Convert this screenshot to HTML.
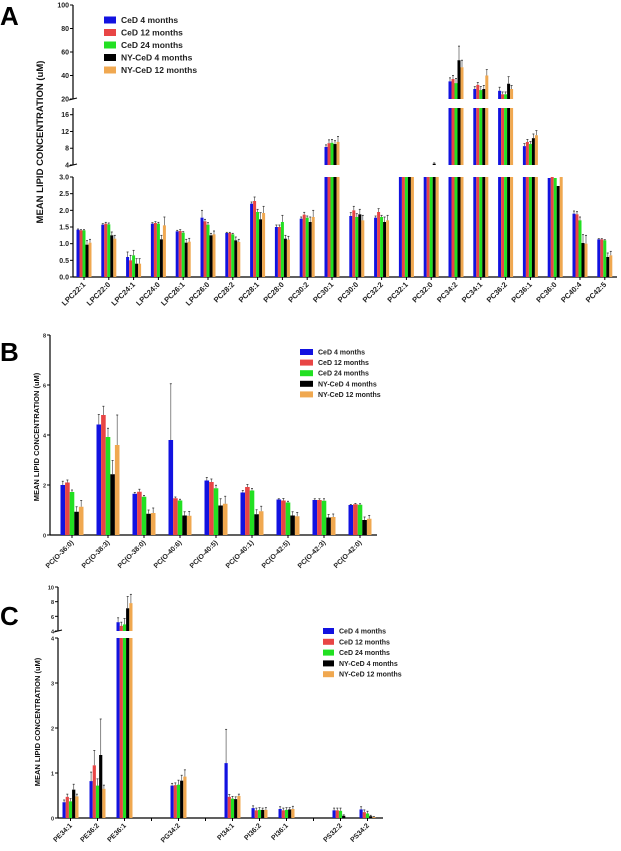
<!DOCTYPE html>
<html><head><meta charset="utf-8"><style>
body{margin:0;background:#fff;width:621px;height:851px;overflow:hidden}
svg{display:block;font-family:"Liberation Sans",sans-serif}
</style></head><body>
<svg id="s" width="621" height="851" viewBox="0 0 621 851"></svg>
<script>
const seriesNames=["CeD 4 months","CeD 12 months","CeD 24 months","NY-CeD 4 months","NY-CeD 12 months"];
const colors=["#1212e0","#e84545","#22e022","#000000","#f0a850"];

const catsA=["LPC22:1","LPC22:0","LPC24:1","LPC24:0","LPC26:1","LPC26:0","PC28:2","PC28:1","PC28:0","PC30:2","PC30:1","PC30:0","PC32:2","PC32:1","PC32:0","PC34:2","PC34:1","PC36:2","PC36:1","PC36:0","PC40:4","PC42:5"];
const valsA=[
[1.42,1.40,1.40,0.97,1.03],[1.57,1.60,1.58,1.25,1.15],[0.60,0.50,0.65,0.40,0.40],[1.60,1.62,1.60,1.13,1.55],
[1.37,1.38,1.33,1.03,1.06],[1.78,1.67,1.57,1.25,1.28],[1.32,1.32,1.28,1.10,1.05],[2.20,2.28,1.95,1.73,1.92],
[1.50,1.50,1.65,1.15,1.12],[1.75,1.87,1.78,1.65,1.80],[8.3,9.2,9.3,9.0,9.5],[1.83,2.00,1.80,1.88,1.70],
[1.78,1.95,1.80,1.65,1.70],[3.5,3.5,3.5,3.5,3.5],[3.6,3.6,3.6,4.3,3.6],[35,37,33.5,53,47],
[28.5,32,27.6,28.5,40],[27,24,24,33,28.5],[8.5,9.5,9.0,10.4,11.1],[2.97,3.0,2.97,2.73,3.0],
[1.90,1.88,1.70,1.02,1.00],[1.13,1.13,1.10,0.60,0.65]];
const errA=[
[.02,.02,.02,.12,.1],[.03,.04,.04,.1,.1],[.15,.15,.15,.15,.15],[.03,.04,.04,.12,.25],
[.03,.04,.03,.1,.1],[.22,.06,.06,.06,.1],[.02,.02,.03,.1,.08],[.05,.12,.08,.2,.2],
[.06,.06,.2,.1,.1],[.05,.07,.05,.15,.2],[.5,.8,.8,.8,1.3],[.1,.12,.1,.15,.15],
[.05,.1,.05,.15,.15],[0,0,0,0,0],[0,0,0,.2,0],[3,3,4,12,6],
[2,2,3,3,5],[3,2,2,6,3],[.6,.6,.6,1,1.1],[0,0,0,0,0],
[.08,.08,.1,.25,.25],[.02,.02,.02,.12,.12]];

const catsB=["PC(O-36:0)","PC(O-38:3)","PC(O-38:0)","PC(O-40:6)","PC(O-40:5)","PC(O-40:1)","PC(O-42:5)","PC(O-42:3)","PC(O-42:0)"];
const valsB=[[2.0,2.1,1.72,0.93,1.13],[4.42,4.8,3.92,2.43,3.6],[1.65,1.73,1.53,0.85,0.88],[3.8,1.47,1.38,0.78,0.77],
[2.18,2.12,1.87,1.18,1.25],[1.7,1.92,1.78,0.83,0.95],[1.42,1.38,1.3,0.78,0.75],[1.4,1.4,1.37,0.7,0.72],[1.2,1.23,1.21,0.6,0.65]];
const errB=[[.15,.1,.08,.2,.25],[.4,.35,.35,.55,1.2],[.05,.1,.05,.15,.2],[2.25,.05,.05,.15,.17],
[.12,.12,.12,.27,.3],[.08,.1,.08,.18,.2],[.03,.08,.05,.15,.15],[.05,.05,.08,.12,.12],[.02,.03,.04,.12,.13]];

const catsC=["PE34:1","PE36:2","PE36:1","","PG34:2","","PI34:1","PI36:2","PI36:1","","PS32:2","PS34:2"];
const valsC=[[.35,.47,.37,.63,.48],[.82,1.17,.72,1.4,.65],[5.2,4.7,4.9,7.1,7.8],null,[.72,.73,.74,.83,.92],null,
[1.22,.47,.43,.42,.49],[.22,.17,.18,.18,.18],[.2,.17,.18,.19,.2],null,[.17,.17,.16,.05,0],[.19,.13,.1,.04,.02]];
const errC=[[.05,.06,.06,.12,.05],[.2,.33,.15,.8,.08],[.6,.5,.8,1.6,1.2],null,[.05,.05,.1,.12,.15],null,
[.75,.05,.05,.05,.04],[.05,.05,.05,.04,.05],[.05,.05,.05,.04,.06],null,[.05,.05,.06,.02,0],[.06,.05,.05,.02,.01]];

const ticksA=[[0,0.5,1,1.5,2,2.5,3],[4,8,12,16],[20,40,60,80,100]];
const ticksB=[[0,2,4,6,8]];
const ticksC=[[0,1,2,3,4],[4,6,8,10]];

const S=document.getElementById('s');
const NS="http://www.w3.org/2000/svg";
function mk(tag,at,parent){const e=document.createElementNS(NS,tag);for(const k in at)e.setAttribute(k,at[k]);(parent||S).appendChild(e);return e;}

function panel(cfg){
  const g=mk('g',{});
  
  
  const segs=cfg.segs;
  function yOf(v){for(const s of segs){if(v<=s.hi||s===segs[segs.length-1]){const c=Math.max(s.lo,Math.min(s.hi,v));return s.y0-(c-s.lo)*(s.y0-s.y1)/(s.hi-s.lo);}}}
  function segOf(v){for(const s of segs){if(v<=s.hi)return s;}return segs[segs.length-1];}
  segs.forEach((s,i)=>{
    const ax=mk('line',{x1:cfg.ax,x2:cfg.ax,y1:s.y0,y2:s.y1,stroke:'#000','stroke-width':1.2},g);
    
    const tk=cfg.ticks[i];
    tk.forEach(t=>{
      const y=s.y0-(t-s.lo)*(s.y0-s.y1)/(s.hi-s.lo);
      mk('line',{x1:cfg.ax-3,x2:cfg.ax,y1:y,y2:y,stroke:'#000','stroke-width':1},g);
      const tx=mk('text',{x:cfg.ax-4,y:y+2.5,'font-size':cfg.tfs,'font-weight':'bold','text-anchor':'end',fill:'#222'},g);
      tx.textContent=(cfg.fmt&&i===0)?t.toFixed(1):String(t);
      
    });
    if(i>0){mk('line',{x1:cfg.ax-4,x2:cfg.ax+4,y1:s.y0+1,y2:s.y0-1,stroke:'#000','stroke-width':1},g);}
  });
  const xa=mk('line',{x1:cfg.ax,x2:cfg.xend,y1:segs[0].y0,y2:segs[0].y0,stroke:'#000','stroke-width':1.2},g);
  
  const bw=cfg.bw, gw=bw*5;
  cfg.cats.forEach((c,ci)=>{
    const cx=cfg.c0+ci*cfg.step;
    const y0=segs[0].y0;
    mk('line',{x1:cx,x2:cx,y1:y0,y2:y0+3,stroke:'#000','stroke-width':1},g);
    const vals=cfg.vals[ci]; if(!vals)return;
    const lb=mk('text',{x:cx+2,y:y0+8,'font-size':cfg.lfs,'font-weight':'bold','text-anchor':'end',fill:'#222',transform:`rotate(-45 ${cx+2} ${y0+8})`},g);
    lb.textContent=c;
    vals.forEach((v,si)=>{
      const x=cx-gw/2+si*bw;
      segs.forEach(s=>{
        if(v>s.lo){
          const top=s.y0-(Math.min(v,s.hi)-s.lo)*(s.y0-s.y1)/(s.hi-s.lo);
          const r=mk('rect',{x:x,y:top,width:bw,height:Math.max(0,s.y0-top),fill:colors[si]},g);
          
        }
      });
      const e=cfg.err[ci][si];
      if(e>0){
        const sv=segOf(v);const last=segs.indexOf(sv)==segs.length-1;
        const ytop=yOf(last?v+e:Math.min(v+e,sv.hi));
        const yb=yOf(v);
        const el=mk('line',{x1:x+bw/2,x2:x+bw/2,y1:yb,y2:ytop,stroke:'#555','stroke-width':0.7},g);
        
        mk('line',{x1:x+bw/2-1,x2:x+bw/2+1,y1:ytop,y2:ytop,stroke:'#333','stroke-width':0.8},g);
      }
    });
  });
  seriesNames.forEach((n,i)=>{
    const y=cfg.leg.y+i*cfg.leg.dy;
    const r=mk('rect',{x:cfg.leg.x,y:y-cfg.leg.h/2,width:cfg.leg.w,height:cfg.leg.h,fill:colors[i]},g);
    
    const t=mk('text',{x:cfg.leg.x+cfg.leg.w+5,y:y+cfg.leg.fs*0.35,'font-size':cfg.leg.fs,'font-weight':'bold',fill:'#222'},g);
    t.textContent=n;
  });
  const yt=mk('text',{x:cfg.yt.x,y:cfg.yt.y,'font-size':cfg.yt.fs,'font-weight':'bold','text-anchor':'middle',fill:'#111',transform:`rotate(-90 ${cfg.yt.x} ${cfg.yt.y})`},g);
  yt.textContent="MEAN LIPID CONCENTRATION (uM)";
  const L=mk('text',{x:cfg.letter.x,y:cfg.letter.y,'font-size':26,'font-weight':'bold',fill:'#000'},g);
  L.textContent=cfg.letter.t;
}

panel({name:'panel-a',ax:73,xend:617,c0:84,step:24.8,bw:3,cats:catsA,vals:valsA,err:errA,tfs:7,lfs:7.5,fmt:true,
 segs:[{lo:0,hi:3,y0:277,y1:177},{lo:4,hi:17.6,y0:165,y1:108},{lo:20,hi:100,y0:99,y1:5}],ticks:ticksA,
 leg:{x:104,y:20,dy:12.5,w:12,h:7,fs:8.5},yt:{x:43,y:142,fs:9.5},letter:{x:0,y:25,t:'A'}});
panel({name:'panel-b',ax:50,xend:377,c0:72,step:36,bw:4.6,cats:catsB,vals:valsB,err:errB,tfs:5.5,lfs:7,
 segs:[{lo:0,hi:8,y0:535,y1:335}],ticks:ticksB,
 leg:{x:300,y:352,dy:10.6,w:13,h:6,fs:7},yt:{x:39,y:437,fs:7.5},letter:{x:0,y:361,t:'B'}});
panel({name:'panel-c',ax:58,xend:383,c0:70.5,step:27,bw:3.2,cats:catsC,vals:valsC,err:errC,tfs:5.5,lfs:7,
 segs:[{lo:0,hi:4,y0:818,y1:638},{lo:4,hi:10,y0:631,y1:587}],ticks:ticksC,
 leg:{x:323,y:631,dy:10.8,w:11,h:6,fs:7},yt:{x:40,y:722,fs:7.5},letter:{x:0,y:625,t:'C'}});
</script>
</body></html>
